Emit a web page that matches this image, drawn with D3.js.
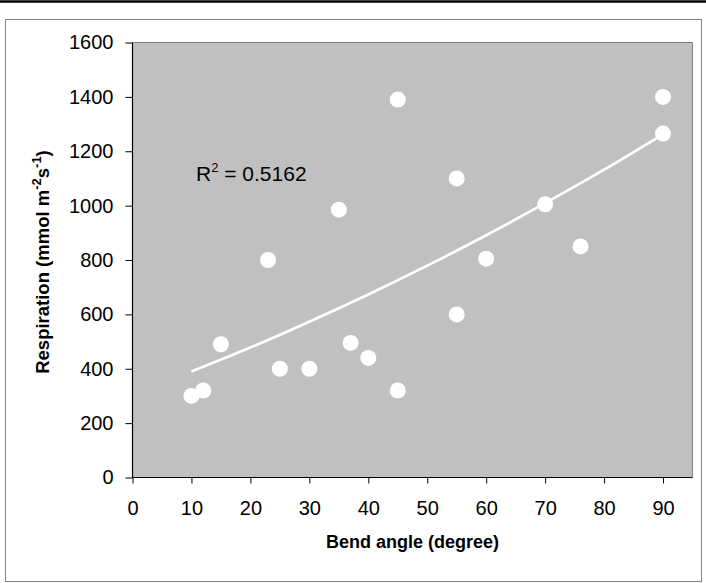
<!DOCTYPE html>
<html>
<head>
<meta charset="utf-8">
<script src="https://cdn.jsdelivr.net/npm/d3@7"></script>
<style>
  html, body { margin: 0; padding: 0; background: #fff; }
  svg { display: block; }
  text { font-family: "Liberation Sans", Arial, sans-serif; }
</style>
</head>
<body>
<script>
// ---- data ----
const bendAngle   = [10, 12, 15, 23, 25, 30, 35, 37, 40, 45, 45, 55, 55, 60, 70, 76, 90, 90];
const respiration = [300, 320, 490, 800, 400, 400, 985, 495, 440, 1390, 320, 1100, 600, 805, 1005, 850, 1400, 1265];
const trendX = [10, 20, 30, 40, 50, 60, 70, 80, 90];
const trendY = [390, 478, 573, 673, 779, 891, 1009, 1132, 1262];
const xTicks = [0, 10, 20, 30, 40, 50, 60, 70, 80, 90];
const yTicks = [0, 200, 400, 600, 800, 1000, 1200, 1400, 1600];
const r2Label = "0.5162";

(function () {
const W = 706, H = 583;
const svg = d3.select("body").append("svg").attr("width", W).attr("height", H);

// top rule and outer frame
svg.append("line").attr("x1", 0).attr("x2", W).attr("y1", 1.5).attr("y2", 1.5)
  .attr("stroke", "#000").attr("stroke-width", 2.5);
svg.append("rect").attr("x", 5.5).attr("y", 19.5).attr("width", 696).attr("height", 562)
  .attr("fill", "none").attr("stroke", "#7f7f7f").attr("stroke-width", 1);

const pL = 132.5, pR = 692.5, pT = 42.5, pB = 477.5;
const x = d3.scaleLinear().domain([0, 95]).range([pL, pR]);
const y = d3.scaleLinear().domain([0, 1600]).range([pB, pT]);

// plot area
svg.append("rect").attr("x", pL).attr("y", pT).attr("width", pR - pL).attr("height", pB - pT)
  .attr("fill", "#c0c0c0");
svg.append("path").attr("d", `M${pL},${pT}H${pR}V${pB}`)
  .attr("fill", "none").attr("stroke", "#808080").attr("stroke-width", 1);

// axes
const xAxis = svg.append("g").attr("transform", `translate(0,${pB})`)
  .call(d3.axisBottom(x).tickValues(xTicks).tickFormat(d3.format("d"))
    .tickSizeInner(6).tickSizeOuter(0).tickPadding(17));
const yAxis = svg.append("g").attr("transform", `translate(${pL},0)`)
  .call(d3.axisLeft(y).tickValues(yTicks).tickFormat(d3.format("d"))
    .tickSizeInner(7).tickSizeOuter(0).tickPadding(12));
[xAxis, yAxis].forEach(g => {
  g.select(".domain").attr("stroke", "#000").attr("stroke-width", 1.2);
  g.selectAll(".tick line").attr("stroke", "#000");
  g.selectAll(".tick text").attr("font-size", 20).attr("fill", "#000")
    .attr("font-family", "'Liberation Sans', Arial, sans-serif");
});
xAxis.select(".domain").attr("d", `M${pL},0H${pR}`);
yAxis.select(".domain").attr("d", `M0,${pT}V${pB}`);

// trend line
const line = d3.line().x(d => x(d[0])).y(d => y(d[1])).curve(d3.curveNatural);
svg.append("path").datum(trendX.map((v, i) => [v, trendY[i]]))
  .attr("d", line).attr("fill", "none").attr("stroke", "#fff").attr("stroke-width", 2.6);

// points
svg.append("g").selectAll("circle").data(bendAngle.map((v, i) => [v, respiration[i]]))
  .join("circle").attr("cx", d => x(d[0])).attr("cy", d => y(d[1])).attr("r", 8).attr("fill", "#fff");

// R² label
const rt = svg.append("text").attr("x", 196).attr("y", 181).attr("font-size", 21).attr("fill", "#000");
rt.append("tspan").text("R");
rt.append("tspan").attr("font-size", 13).attr("dy", -9).text("2");
rt.append("tspan").attr("dy", 9).text(" = " + r2Label);

// axis titles
svg.append("text").attr("x", (pL + pR) / 2).attr("y", 548).attr("text-anchor", "middle")
  .attr("font-size", 18).attr("font-weight", "bold").text("Bend angle (degree)");

const yt = svg.append("text").attr("transform", `translate(49,${(pT + pB) / 2 + 2}) rotate(-90)`)
  .attr("text-anchor", "middle").attr("font-size", 18.5).attr("font-weight", "bold");
yt.append("tspan").text("Respiration (mmol m");
yt.append("tspan").attr("font-size", 13).attr("dy", -8).text("-2");
yt.append("tspan").attr("dy", 8).text("s");
yt.append("tspan").attr("font-size", 13).attr("dy", -8).text("-1");
yt.append("tspan").attr("dy", 8).text(")");
})();
</script>
</body>
</html>
